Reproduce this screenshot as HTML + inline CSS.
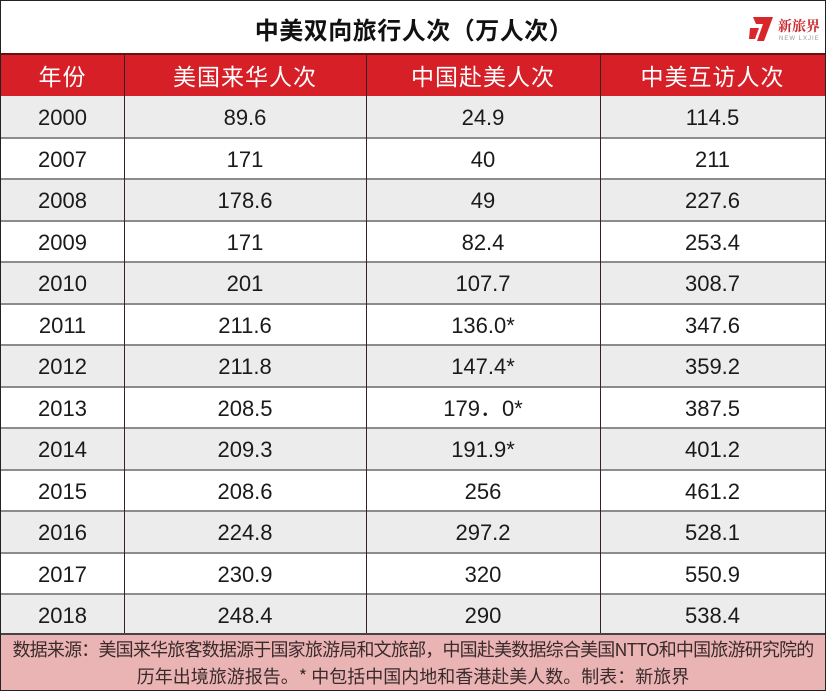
<!DOCTYPE html>
<html><head><meta charset="utf-8">
<style>
html,body{margin:0;padding:0;background:#fff;}
body{width:828px;height:692px;position:relative;overflow:hidden;font-family:"Liberation Sans","Noto Sans CJK SC",sans-serif;}
.abs{position:absolute;}
.title{left:0;width:828px;top:6px;height:46px;line-height:46px;text-align:center;font-family:"Noto Sans CJK SC",sans-serif;font-weight:bold;font-size:24px;letter-spacing:0.5px;color:#111;}
.hdr{top:54px;height:42px;left:1px;width:824px;background:#d71f27;}
.hc{position:absolute;top:54px;height:42px;line-height:42px;text-align:center;color:#fff;font-family:"Noto Sans CJK SC",sans-serif;font-size:23px;letter-spacing:1px;}
.row{position:absolute;left:1px;width:824px;height:41.5px;}
.g{background:#ececec;}
.w{background:#fff;}
.cell{position:absolute;text-align:center;font-size:22px;color:#1a1a1a;line-height:43px;height:41.5px;}
.hl{position:absolute;left:1px;width:824px;height:2px;background:#8c8c8c;}
.vl{position:absolute;width:1.5px;background:#2a2a2a;}
.foot{left:1px;top:634px;width:824px;height:56px;background:#eab4b5;}
.ft{position:absolute;left:1px;width:824px;text-align:center;font-family:"Noto Sans CJK SC",sans-serif;font-size:18px;color:#3a2a2a;white-space:nowrap;}
</style></head><body>
<div class="abs title">中美双向旅行人次（万人次）</div>
<!-- logo -->
<svg class="abs" style="left:748px;top:13px" width="78" height="32" viewBox="0 0 78 32">
  <polygon points="5,4 25,4 16,28 9,28 15,11 8,11" fill="#d8262c"/>
  <polygon points="2,15 11,15 7,26 1,26" fill="#d8262c"/>
  <text x="30" y="18" font-family="Noto Serif CJK SC,serif" font-weight="bold" font-size="14" fill="#c9272b">新旅界</text>
  <text x="31" y="27" font-family="Liberation Sans,sans-serif" font-size="6" fill="#9a9a9a" letter-spacing="1">NEW LXJIE</text>
</svg>
<div class="abs hdr"></div>
<div class="hc" style="left:1px;width:123px">年份</div>
<div class="hc" style="left:124px;width:242px">美国来华人次</div>
<div class="hc" style="left:366px;width:234px">中国赴美人次</div>
<div class="hc" style="left:600px;width:225px">中美互访人次</div>

<div class="row g" style="top:96px"></div>
<div class="row w" style="top:137.5px"></div>
<div class="row g" style="top:179px"></div>
<div class="row w" style="top:220.5px"></div>
<div class="row g" style="top:262px"></div>
<div class="row w" style="top:303.5px"></div>
<div class="row g" style="top:345px"></div>
<div class="row w" style="top:386.5px"></div>
<div class="row g" style="top:428px"></div>
<div class="row w" style="top:469.5px"></div>
<div class="row g" style="top:511px"></div>
<div class="row w" style="top:552.5px"></div>
<div class="row g" style="top:594px"></div>

<div class="hl" style="top:136.5px"></div>
<div class="hl" style="top:178px"></div>
<div class="hl" style="top:219.5px"></div>
<div class="hl" style="top:261px"></div>
<div class="hl" style="top:302.5px"></div>
<div class="hl" style="top:344px"></div>
<div class="hl" style="top:385.5px"></div>
<div class="hl" style="top:427px"></div>
<div class="hl" style="top:468.5px"></div>
<div class="hl" style="top:510px"></div>
<div class="hl" style="top:551.5px"></div>
<div class="hl" style="top:593px"></div>

<div class="cell" style="left:1px;width:123px;top:96px">2000</div><div class="cell" style="left:124px;width:242px;top:96px">89.6</div><div class="cell" style="left:366px;width:234px;top:96px">24.9</div><div class="cell" style="left:600px;width:225px;top:96px">114.5</div>
<div class="cell" style="left:1px;width:123px;top:137.5px">2007</div><div class="cell" style="left:124px;width:242px;top:137.5px">171</div><div class="cell" style="left:366px;width:234px;top:137.5px">40</div><div class="cell" style="left:600px;width:225px;top:137.5px">211</div>
<div class="cell" style="left:1px;width:123px;top:179px">2008</div><div class="cell" style="left:124px;width:242px;top:179px">178.6</div><div class="cell" style="left:366px;width:234px;top:179px">49</div><div class="cell" style="left:600px;width:225px;top:179px">227.6</div>
<div class="cell" style="left:1px;width:123px;top:220.5px">2009</div><div class="cell" style="left:124px;width:242px;top:220.5px">171</div><div class="cell" style="left:366px;width:234px;top:220.5px">82.4</div><div class="cell" style="left:600px;width:225px;top:220.5px">253.4</div>
<div class="cell" style="left:1px;width:123px;top:262px">2010</div><div class="cell" style="left:124px;width:242px;top:262px">201</div><div class="cell" style="left:366px;width:234px;top:262px">107.7</div><div class="cell" style="left:600px;width:225px;top:262px">308.7</div>
<div class="cell" style="left:1px;width:123px;top:303.5px">2011</div><div class="cell" style="left:124px;width:242px;top:303.5px">211.6</div><div class="cell" style="left:366px;width:234px;top:303.5px">136.0*</div><div class="cell" style="left:600px;width:225px;top:303.5px">347.6</div>
<div class="cell" style="left:1px;width:123px;top:345px">2012</div><div class="cell" style="left:124px;width:242px;top:345px">211.8</div><div class="cell" style="left:366px;width:234px;top:345px">147.4*</div><div class="cell" style="left:600px;width:225px;top:345px">359.2</div>
<div class="cell" style="left:1px;width:123px;top:386.5px">2013</div><div class="cell" style="left:124px;width:242px;top:386.5px">208.5</div><div class="cell" style="left:366px;width:234px;top:386.5px">179．0*</div><div class="cell" style="left:600px;width:225px;top:386.5px">387.5</div>
<div class="cell" style="left:1px;width:123px;top:428px">2014</div><div class="cell" style="left:124px;width:242px;top:428px">209.3</div><div class="cell" style="left:366px;width:234px;top:428px">191.9*</div><div class="cell" style="left:600px;width:225px;top:428px">401.2</div>
<div class="cell" style="left:1px;width:123px;top:469.5px">2015</div><div class="cell" style="left:124px;width:242px;top:469.5px">208.6</div><div class="cell" style="left:366px;width:234px;top:469.5px">256</div><div class="cell" style="left:600px;width:225px;top:469.5px">461.2</div>
<div class="cell" style="left:1px;width:123px;top:511px">2016</div><div class="cell" style="left:124px;width:242px;top:511px">224.8</div><div class="cell" style="left:366px;width:234px;top:511px">297.2</div><div class="cell" style="left:600px;width:225px;top:511px">528.1</div>
<div class="cell" style="left:1px;width:123px;top:552.5px">2017</div><div class="cell" style="left:124px;width:242px;top:552.5px">230.9</div><div class="cell" style="left:366px;width:234px;top:552.5px">320</div><div class="cell" style="left:600px;width:225px;top:552.5px">550.9</div>
<div class="cell" style="left:1px;width:123px;top:594px">2018</div><div class="cell" style="left:124px;width:242px;top:594px">248.4</div><div class="cell" style="left:366px;width:234px;top:594px">290</div><div class="cell" style="left:600px;width:225px;top:594px">538.4</div>

<div class="vl" style="left:123.5px;top:54px;height:580px;background:#3a2020"></div>
<div class="vl" style="left:365.5px;top:54px;height:580px;background:#3a2020"></div>
<div class="vl" style="left:599.5px;top:54px;height:580px;background:#3a2020"></div>

<div class="abs foot"></div>
<div class="abs" style="left:1px;top:633px;width:824px;height:1.5px;background:#444"></div>
<div class="ft" style="top:635px;line-height:28px;letter-spacing:-0.8px">数据来源：美国来华旅客数据源于国家旅游局和文旅部，中国赴美数据综合美国NTTO和中国旅游研究院的</div>
<div class="ft" style="top:662px;line-height:28px">历年出境旅游报告。* 中包括中国内地和香港赴美人数。制表：新旅界</div>

<div class="abs" style="left:1px;top:53px;width:824px;height:1.5px;background:#6a1010"></div>
<div class="abs" style="left:0;top:0;width:824px;height:689px;border:1.5px solid #222"></div>
</body></html>
